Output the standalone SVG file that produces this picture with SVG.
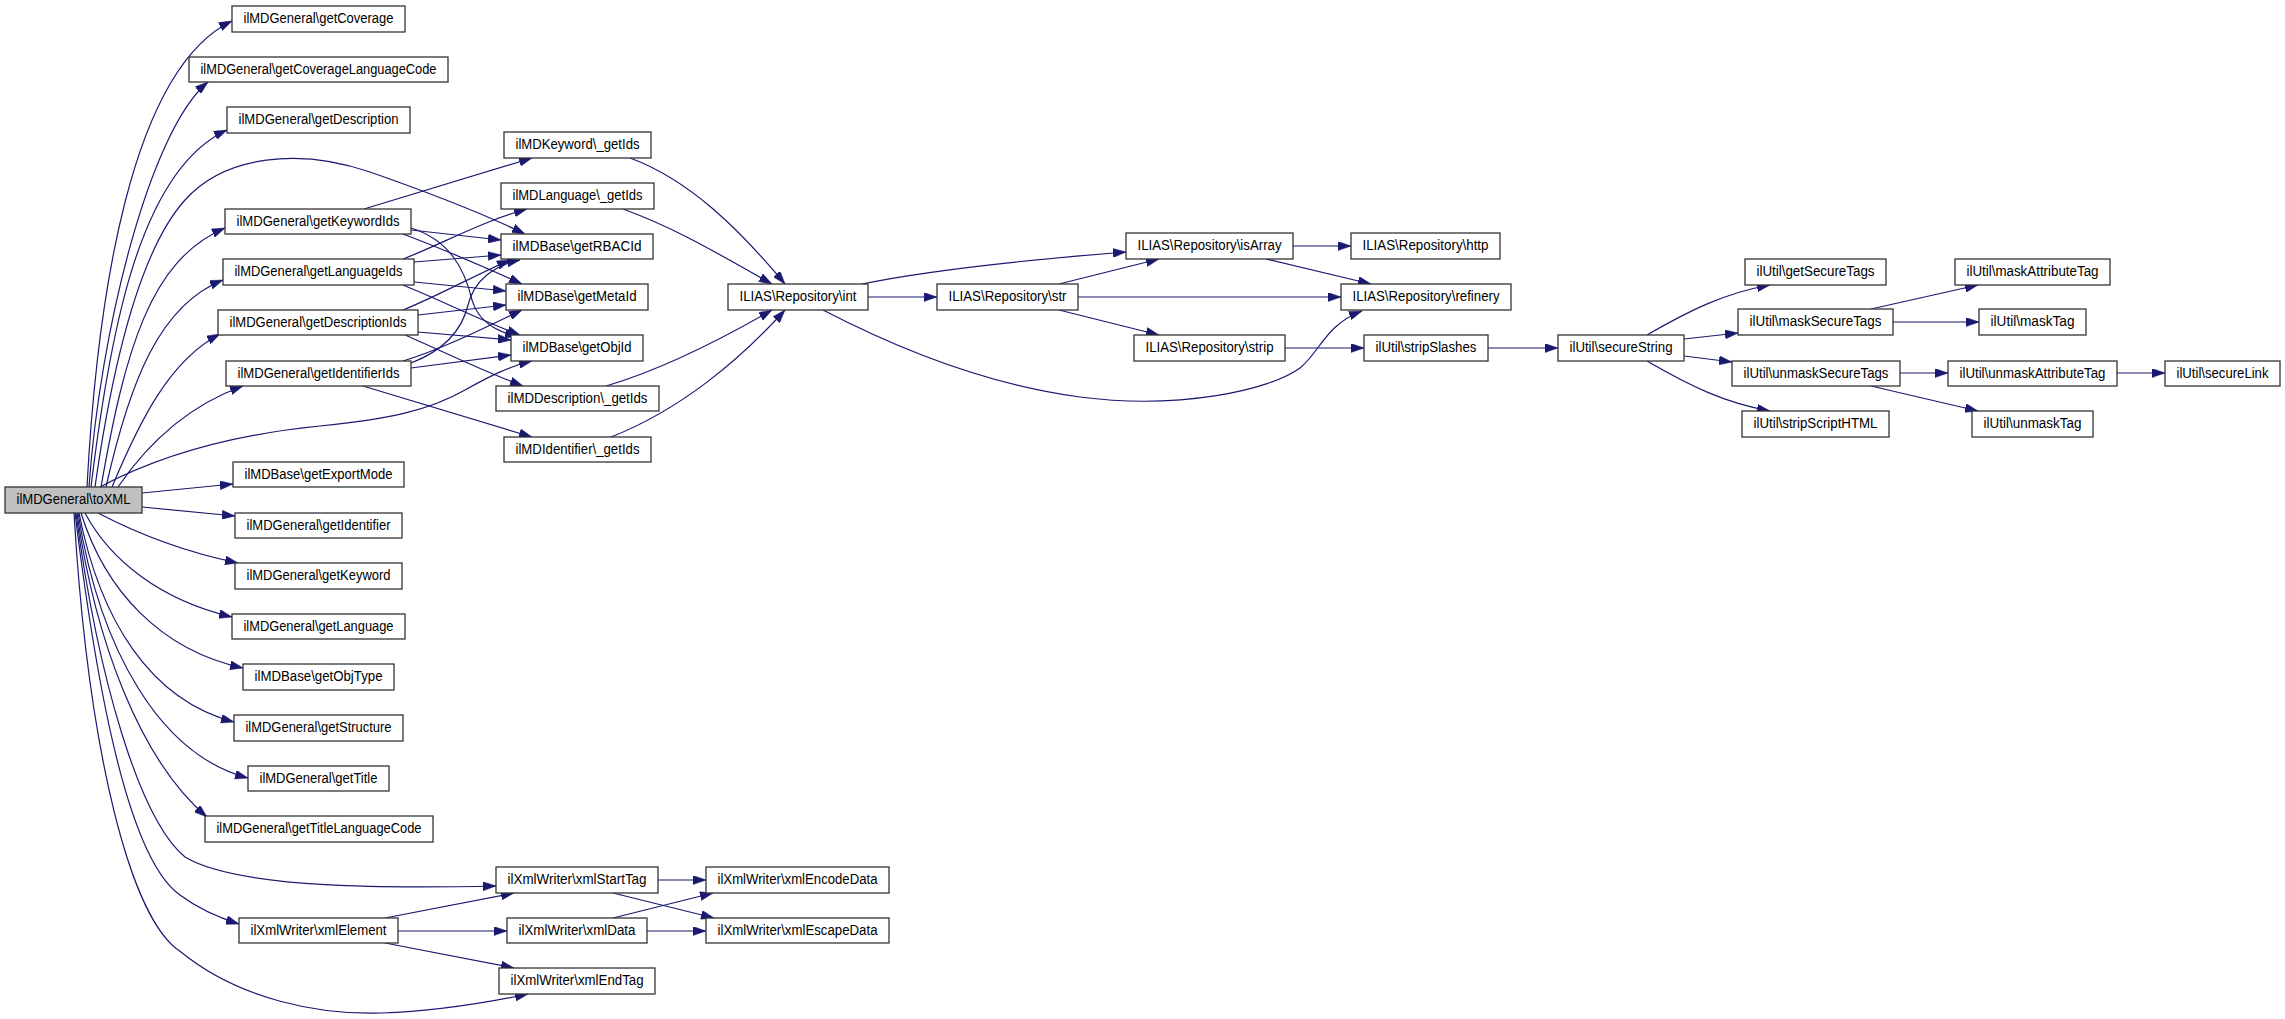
<svg xmlns="http://www.w3.org/2000/svg" width="2285" height="1019" viewBox="0 0 2285 1019">
<defs>
<marker id="arr" markerUnits="userSpaceOnUse" markerWidth="13" markerHeight="9" viewBox="0 0 13 9" refX="13" refY="4.5" orient="auto">
<path d="M0,0 L13,4.5 L0,9 z" fill="#191970" stroke="#191970" stroke-width="0.5"/>
</marker>
</defs>
<style>
.n rect{fill:#fff;stroke:#333;stroke-width:1.3}
.n.root rect{fill:#bfbfbf}
.n text{font-family:"Liberation Sans",Arial,sans-serif;font-size:14px;fill:#000;text-anchor:middle}
#connectors path{fill:none;stroke:#191970;stroke-width:1.2;marker-end:url(#arr)}
</style>
<rect width="2285" height="1019" fill="#fff"/>
<g id="connectors">
<path d="M87,487 C97,300 130,70 232,21"/>
<path d="M89,487 C100,330 150,130 208,82"/>
<path d="M91,487 C110,330 140,170 227,130"/>
<path d="M95,487 C113,360 140,250 185,200 C225,155 300,148 370,172 C430,193 480,212 525,234"/>
<path d="M101,487 C125,350 150,260 225,228"/>
<path d="M106,487 C130,380 160,305 223,280"/>
<path d="M112,487 C140,420 170,360 220,334"/>
<path d="M118,487 C150,440 190,405 243,386"/>
<path d="M100,487 C160,455 230,435 320,426 C390,419 430,410 465,390 C490,376 510,366 532,361"/>
<path d="M142,493 L233,484"/>
<path d="M142,507 L235,516"/>
<path d="M98,513 C140,535 185,552 238,563"/>
<path d="M85,513 C110,560 160,600 232,617"/>
<path d="M81,513 C105,590 160,650 243,668"/>
<path d="M79,513 C100,620 150,700 234,722"/>
<path d="M78,513 C100,650 160,755 248,778"/>
<path d="M77,513 C95,640 140,760 207,817"/>
<path d="M76,513 C98,680 140,820 185,857 C240,890 400,888 496,886"/>
<path d="M75,513 C98,700 130,860 180,895 C200,910 220,918 239,924"/>
<path d="M74,513 C88,750 130,920 181,952 C240,1000 320,1015 381,1013 C440,1011 490,1002 528,994"/>
<path d="M364,209 L532,158"/>
<path d="M411,230 L501,240"/>
<path d="M403,234 C440,248 480,265 522,284"/>
<path d="M411,228 C450,240 465,270 472,300 C478,320 495,332 518,336"/>
<path d="M403,259 C440,245 480,222 527,209"/>
<path d="M414,262 L501,255"/>
<path d="M414,282 L506,291"/>
<path d="M403,285 C440,300 480,320 520,335"/>
<path d="M405,335 C440,350 480,370 523,386"/>
<path d="M403,310 C440,295 475,275 510,260"/>
<path d="M418,315 L506,305"/>
<path d="M418,332 L511,340"/>
<path d="M363,386 L532,437"/>
<path d="M411,363 C445,350 462,330 468,305 C474,280 495,265 520,260"/>
<path d="M403,361 C440,350 480,330 522,310"/>
<path d="M411,368 L511,355"/>
<path d="M630,158 C690,180 740,230 785,284"/>
<path d="M623,209 C680,230 720,255 772,284"/>
<path d="M606,386 C660,370 720,340 772,310"/>
<path d="M611,437 C680,410 740,360 785,310"/>
<path d="M868,297 L937,297"/>
<path d="M862,284 C920,272 1000,262 1126,252"/>
<path d="M823,310 C900,350 990,385 1080,397 C1180,410 1270,390 1300,368 C1320,352 1325,325 1362,311"/>
<path d="M1059,284 L1159,259"/>
<path d="M1078,297 L1341,297"/>
<path d="M1059,310 L1159,335"/>
<path d="M1293,246 L1351,246"/>
<path d="M1266,259 L1371,284"/>
<path d="M1285,348 L1364,348"/>
<path d="M1488,348 L1558,348"/>
<path d="M1647,335 C1690,310 1725,293 1770,285"/>
<path d="M1684,339 L1738,333"/>
<path d="M1684,356 L1732,362"/>
<path d="M1647,361 C1690,386 1725,403 1770,411"/>
<path d="M1871,309 L1978,285"/>
<path d="M1893,322 L1979,322"/>
<path d="M1900,373 L1948,373"/>
<path d="M1871,386 L1978,411"/>
<path d="M2117,373 L2165,373"/>
<path d="M385,918 L514,893"/>
<path d="M398,931 L507,931"/>
<path d="M385,943 L514,968"/>
<path d="M658,880 L706,880"/>
<path d="M613,893 L714,918"/>
<path d="M613,918 L713,893"/>
<path d="M647,931 L706,931"/>
</g>
<g id="toXML" class="n root"><rect x="5" y="487" width="137" height="26"/><text x="73.5" y="504.3" textLength="114" lengthAdjust="spacingAndGlyphs">ilMDGeneral\toXML</text></g>
<g id="getCoverage" class="n"><rect x="232" y="6" width="173" height="26"/><text x="318.5" y="23.3" textLength="150" lengthAdjust="spacingAndGlyphs">ilMDGeneral\getCoverage</text></g>
<g id="getCoverageLanguageCode" class="n"><rect x="189" y="57" width="259" height="25"/><text x="318.5" y="73.8" textLength="236" lengthAdjust="spacingAndGlyphs">ilMDGeneral\getCoverageLanguageCode</text></g>
<g id="getDescription" class="n"><rect x="227" y="107" width="183" height="26"/><text x="318.5" y="124.3" textLength="160" lengthAdjust="spacingAndGlyphs">ilMDGeneral\getDescription</text></g>
<g id="getKeywordIds" class="n"><rect x="225" y="209" width="186" height="25"/><text x="318" y="225.8" textLength="163" lengthAdjust="spacingAndGlyphs">ilMDGeneral\getKeywordIds</text></g>
<g id="getLanguageIds" class="n"><rect x="223" y="259" width="191" height="26"/><text x="318.5" y="276.3" textLength="168" lengthAdjust="spacingAndGlyphs">ilMDGeneral\getLanguageIds</text></g>
<g id="getDescriptionIds" class="n"><rect x="218" y="310" width="200" height="25"/><text x="318" y="326.8" textLength="177" lengthAdjust="spacingAndGlyphs">ilMDGeneral\getDescriptionIds</text></g>
<g id="getIdentifierIds" class="n"><rect x="226" y="361" width="185" height="25"/><text x="318.5" y="377.8" textLength="162" lengthAdjust="spacingAndGlyphs">ilMDGeneral\getIdentifierIds</text></g>
<g id="getExportMode" class="n"><rect x="233" y="462" width="171" height="25"/><text x="318.5" y="478.8" textLength="148" lengthAdjust="spacingAndGlyphs">ilMDBase\getExportMode</text></g>
<g id="getIdentifier" class="n"><rect x="235" y="513" width="167" height="25"/><text x="318.5" y="529.8" textLength="144" lengthAdjust="spacingAndGlyphs">ilMDGeneral\getIdentifier</text></g>
<g id="getKeyword" class="n"><rect x="235" y="563" width="167" height="26"/><text x="318.5" y="580.3" textLength="144" lengthAdjust="spacingAndGlyphs">ilMDGeneral\getKeyword</text></g>
<g id="getLanguage" class="n"><rect x="232" y="614" width="173" height="25"/><text x="318.5" y="630.8" textLength="150" lengthAdjust="spacingAndGlyphs">ilMDGeneral\getLanguage</text></g>
<g id="getObjType" class="n"><rect x="243" y="664" width="151" height="26"/><text x="318.5" y="681.3" textLength="128" lengthAdjust="spacingAndGlyphs">ilMDBase\getObjType</text></g>
<g id="getStructure" class="n"><rect x="234" y="715" width="169" height="26"/><text x="318.5" y="732.3" textLength="146" lengthAdjust="spacingAndGlyphs">ilMDGeneral\getStructure</text></g>
<g id="getTitle" class="n"><rect x="248" y="766" width="141" height="25"/><text x="318.5" y="782.8" textLength="118" lengthAdjust="spacingAndGlyphs">ilMDGeneral\getTitle</text></g>
<g id="getTitleLanguageCode" class="n"><rect x="205" y="816" width="228" height="26"/><text x="319" y="833.3" textLength="205" lengthAdjust="spacingAndGlyphs">ilMDGeneral\getTitleLanguageCode</text></g>
<g id="xmlElement" class="n"><rect x="239" y="918" width="159" height="25"/><text x="318.5" y="934.8" textLength="136" lengthAdjust="spacingAndGlyphs">ilXmlWriter\xmlElement</text></g>
<g id="keywordGetIds" class="n"><rect x="504" y="132" width="147" height="26"/><text x="577.5" y="149.3" textLength="124" lengthAdjust="spacingAndGlyphs">ilMDKeyword\_getIds</text></g>
<g id="languageGetIds" class="n"><rect x="501" y="183" width="153" height="26"/><text x="577.5" y="200.3" textLength="130" lengthAdjust="spacingAndGlyphs">ilMDLanguage\_getIds</text></g>
<g id="getRBACId" class="n"><rect x="501" y="234" width="152" height="25"/><text x="577" y="250.8" textLength="129" lengthAdjust="spacingAndGlyphs">ilMDBase\getRBACId</text></g>
<g id="getMetaId" class="n"><rect x="506" y="284" width="142" height="26"/><text x="577" y="301.3" textLength="119" lengthAdjust="spacingAndGlyphs">ilMDBase\getMetaId</text></g>
<g id="getObjId" class="n"><rect x="511" y="335" width="132" height="26"/><text x="577" y="352.3" textLength="109" lengthAdjust="spacingAndGlyphs">ilMDBase\getObjId</text></g>
<g id="descriptionGetIds" class="n"><rect x="496" y="386" width="163" height="25"/><text x="577.5" y="402.8" textLength="140" lengthAdjust="spacingAndGlyphs">ilMDDescription\_getIds</text></g>
<g id="identifierGetIds" class="n"><rect x="504" y="437" width="147" height="25"/><text x="577.5" y="453.8" textLength="124" lengthAdjust="spacingAndGlyphs">ilMDIdentifier\_getIds</text></g>
<g id="xmlStartTag" class="n"><rect x="496" y="867" width="162" height="26"/><text x="577" y="884.3" textLength="139" lengthAdjust="spacingAndGlyphs">ilXmlWriter\xmlStartTag</text></g>
<g id="xmlData" class="n"><rect x="507" y="918" width="140" height="25"/><text x="577" y="934.8" textLength="117" lengthAdjust="spacingAndGlyphs">ilXmlWriter\xmlData</text></g>
<g id="xmlEndTag" class="n"><rect x="499" y="968" width="156" height="26"/><text x="577" y="985.3" textLength="133" lengthAdjust="spacingAndGlyphs">ilXmlWriter\xmlEndTag</text></g>
<g id="xmlEncodeData" class="n"><rect x="706" y="867" width="183" height="26"/><text x="797.5" y="884.3" textLength="160" lengthAdjust="spacingAndGlyphs">ilXmlWriter\xmlEncodeData</text></g>
<g id="xmlEscapeData" class="n"><rect x="706" y="918" width="183" height="25"/><text x="797.5" y="934.8" textLength="160" lengthAdjust="spacingAndGlyphs">ilXmlWriter\xmlEscapeData</text></g>
<g id="repoInt" class="n"><rect x="728" y="284" width="140" height="26"/><text x="798" y="301.3" textLength="117" lengthAdjust="spacingAndGlyphs">ILIAS\Repository\int</text></g>
<g id="repoStr" class="n"><rect x="937" y="284" width="141" height="26"/><text x="1007.5" y="301.3" textLength="118" lengthAdjust="spacingAndGlyphs">ILIAS\Repository\str</text></g>
<g id="repoIsArray" class="n"><rect x="1126" y="233" width="167" height="26"/><text x="1209.5" y="250.3" textLength="144" lengthAdjust="spacingAndGlyphs">ILIAS\Repository\isArray</text></g>
<g id="repoHttp" class="n"><rect x="1351" y="233" width="149" height="26"/><text x="1425.5" y="250.3" textLength="126" lengthAdjust="spacingAndGlyphs">ILIAS\Repository\http</text></g>
<g id="repoRefinery" class="n"><rect x="1341" y="284" width="170" height="26"/><text x="1426" y="301.3" textLength="147" lengthAdjust="spacingAndGlyphs">ILIAS\Repository\refinery</text></g>
<g id="repoStrip" class="n"><rect x="1134" y="335" width="151" height="26"/><text x="1209.5" y="352.3" textLength="128" lengthAdjust="spacingAndGlyphs">ILIAS\Repository\strip</text></g>
<g id="stripSlashes" class="n"><rect x="1364" y="335" width="124" height="26"/><text x="1426" y="352.3" textLength="101" lengthAdjust="spacingAndGlyphs">ilUtil\stripSlashes</text></g>
<g id="secureString" class="n"><rect x="1558" y="335" width="126" height="26"/><text x="1621" y="352.3" textLength="103" lengthAdjust="spacingAndGlyphs">ilUtil\secureString</text></g>
<g id="getSecureTags" class="n"><rect x="1745" y="259" width="141" height="26"/><text x="1815.5" y="276.3" textLength="118" lengthAdjust="spacingAndGlyphs">ilUtil\getSecureTags</text></g>
<g id="maskSecureTags" class="n"><rect x="1738" y="309" width="155" height="26"/><text x="1815.5" y="326.3" textLength="132" lengthAdjust="spacingAndGlyphs">ilUtil\maskSecureTags</text></g>
<g id="unmaskSecureTags" class="n"><rect x="1732" y="361" width="168" height="25"/><text x="1816" y="377.8" textLength="145" lengthAdjust="spacingAndGlyphs">ilUtil\unmaskSecureTags</text></g>
<g id="stripScriptHTML" class="n"><rect x="1742" y="411" width="147" height="26"/><text x="1815.5" y="428.3" textLength="124" lengthAdjust="spacingAndGlyphs">ilUtil\stripScriptHTML</text></g>
<g id="maskAttributeTag" class="n"><rect x="1955" y="259" width="155" height="26"/><text x="2032.5" y="276.3" textLength="132" lengthAdjust="spacingAndGlyphs">ilUtil\maskAttributeTag</text></g>
<g id="maskTag" class="n"><rect x="1979" y="309" width="107" height="26"/><text x="2032.5" y="326.3" textLength="84" lengthAdjust="spacingAndGlyphs">ilUtil\maskTag</text></g>
<g id="unmaskAttributeTag" class="n"><rect x="1948" y="361" width="169" height="25"/><text x="2032.5" y="377.8" textLength="146" lengthAdjust="spacingAndGlyphs">ilUtil\unmaskAttributeTag</text></g>
<g id="unmaskTag" class="n"><rect x="1972" y="411" width="121" height="26"/><text x="2032.5" y="428.3" textLength="98" lengthAdjust="spacingAndGlyphs">ilUtil\unmaskTag</text></g>
<g id="secureLink" class="n"><rect x="2165" y="361" width="115" height="25"/><text x="2222.5" y="377.8" textLength="92" lengthAdjust="spacingAndGlyphs">ilUtil\secureLink</text></g>
</svg>
